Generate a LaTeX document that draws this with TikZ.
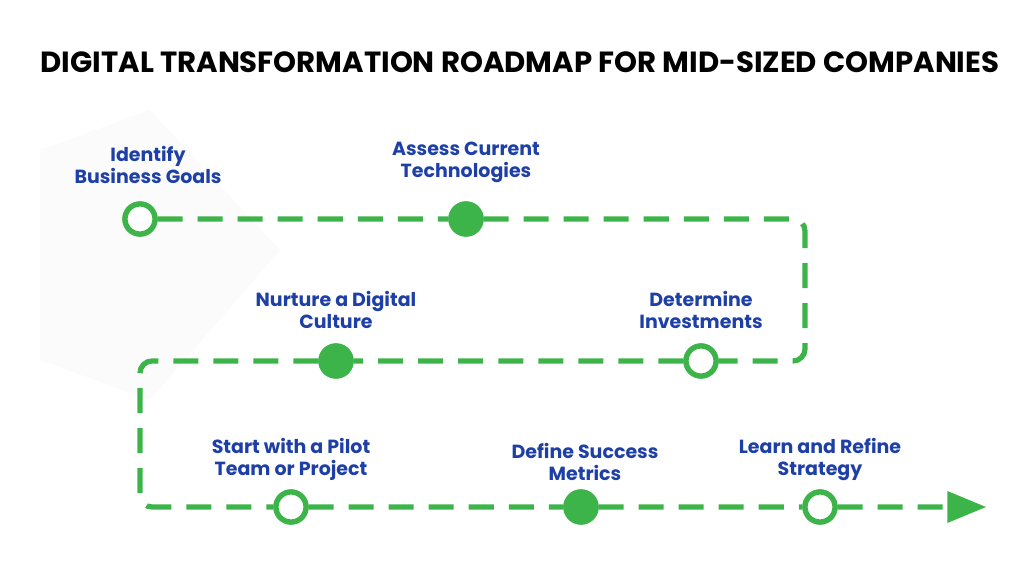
\documentclass[tikz,border=0pt]{standalone}
\usepackage{fontspec}
\setmainfont{Poppins}
\usetikzlibrary{positioning,shapes.geometric}
\definecolor{pathgreen}{HTML}{3DB44A}
\definecolor{labelblue}{HTML}{1D3FA6}
\tikzset{
    road/.style={pathgreen,line width=1.5pt,dash pattern=on 0.25cm off 0.15cm,rounded corners=0.12cm},
    stop/.style={circle,draw=pathgreen,line width=1.5pt,fill=white,minimum size=0.3cm,inner sep=0pt},
    done/.style={stop,fill=pathgreen},
    milestone/.style={text=labelblue,align=center,font=\fontsize{5.4}{6.4}\selectfont\bfseries},
}
\begin{document}
\begin{tikzpicture}[x=0.01cm,y=-0.01cm]
    \useasboundingbox (0,0) rectangle (1024,576);
    \fill [gray!3] (40,150) -- (150,110) -- (280,250) -- (150,400) -- (40,360) -- cycle;

    \node [font=\fontsize{8.3}{10}\selectfont\bfseries] (title) at (520,62) {DIGITAL TRANSFORMATION ROADMAP FOR MID-SIZED COMPANIES};

    % corners of the road
    \coordinate (c1) at (805,219);
    \coordinate (c2) at (805,361);
    \coordinate (c3) at (140,361);
    \coordinate (c4) at (140,507);

    \node [stop] (s1) at (140,219) {};
    \node [done] (s2) at (466,219) {};
    \node [stop] (s3) at (701,361) {};
    \node [done] (s4) at (336,361) {};
    \node [stop] (s5) at (291,507) {};
    \node [done] (s6) at (581,507) {};
    \node [stop] (s7) at (820,507) {};
    \node [isosceles triangle,fill=pathgreen,minimum height=0.3cm,minimum width=0.32cm,inner sep=0pt] (tip) at (958,507) {};

    \draw [road] (s1) -- (s2) -- (c1) -- (c2) -- (s3) -- (s4) -- (c3) -- (c4) -- (s5) -- (s6) -- (s7) -- (tip.west);
    \foreach \s in {s1,s3,s5,s7} {
        \node [stop] at (\s) {};
    }
    \foreach \s in {s2,s4,s6} {
        \node [done] at (\s) {};
    }

    \node [milestone,above=0.05cm of s1,xshift=0.08cm] (l1) {Identify\\Business Goals};
    \node [milestone,above=0.06cm of s2] (l2) {Assess Current\\Technologies};
    \node [milestone,above=0.02cm of s3] (l3) {Determine\\Investments};
    \node [milestone,above=0.02cm of s4] (l4) {Nurture a Digital\\Culture};
    \node [milestone,above=-0.04cm of s5] (l5) {Start with a Pilot\\Team or Project};
    \node [milestone,above=-0.04cm of s6,xshift=0.04cm] (l6) {Define Success\\Metrics};
    \node [milestone,above=-0.04cm of s7] (l7) {Learn and Refine\\Strategy};
\end{tikzpicture}
\end{document}
